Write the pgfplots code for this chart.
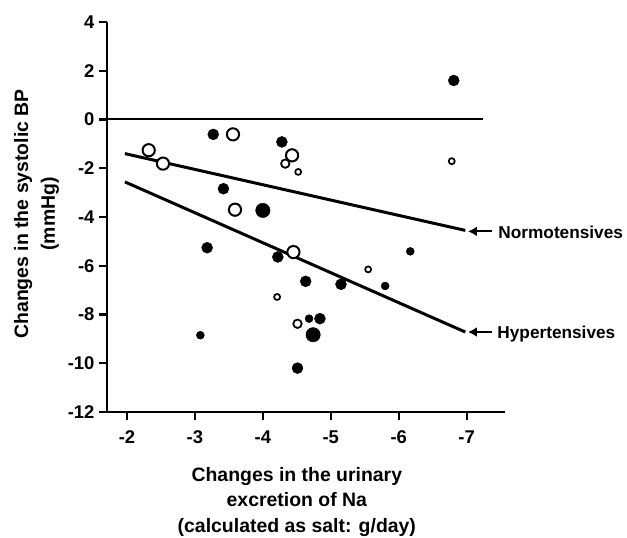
\documentclass[border=0pt]{standalone}
\usepackage{fontspec}
\setmainfont{Liberation Sans}
\usepackage{pgfplots}
\pgfplotsset{compat=1.18}
\usetikzlibrary{arrows.meta}
\begin{document}
\begin{tikzpicture}
\useasboundingbox (-107bp,-126bp) rectangle (520bp,412bp);
\begin{axis}[
  scale only axis, width=398bp, height=390bp,
  x dir=reverse,
  xmin=-7.564, xmax=-1.706, ymin=-12, ymax=4,
  axis lines*=left,
  axis line style={line width=2.6bp},
  tick style={line width=2.2bp, black},
  tick align=outside,
  major tick length=8bp,
  xtick={-2,-3,-4,-5,-6,-7}, xticklabels={-2,-3,-4,-5,-6,-7},
  ytick={-12,-10,-8,-6,-4,-2,0,2,4}, yticklabels={-12,-10,-8,-6,-4,-2,0,2,4},
  ticklabel style={font=\fontsize{18.5}{18.5}\selectfont\bfseries},
  xticklabel style={yshift=-7bp},
  yticklabel style={xshift=-1bp},
  clip=false,
]
% zero line
\addplot[line width=2bp] coordinates {(-1.706,0) (-7.24,0)};
% regression lines
\addplot[line width=3bp] coordinates {(-1.97,-1.40) (-6.98,-4.55)};
\addplot[line width=3bp] coordinates {(-1.97,-2.56) (-6.98,-8.72)};
% normotensives (open)
\addplot[only marks, mark=*, mark size=6.1bp, mark options={draw=black, fill=white, line width=2bp}] coordinates {
(-2.32,-1.26) (-2.53,-1.81) (-3.56,-0.61) (-3.59,-3.70) (-4.43,-1.47) (-4.45,-5.44)};
\addplot[only marks, mark=*, mark size=4.2bp, mark options={draw=black, fill=white, line width=1.8bp}] coordinates {
(-4.33,-1.81) (-4.51,-8.38)};
\addplot[only marks, mark=*, mark size=3.0bp, mark options={draw=black, fill=white, line width=1.7bp}] coordinates {
(-4.52,-2.15) (-6.78,-1.71) (-5.55,-6.15) (-4.21,-7.28)};
% hypertensives (filled)
\addplot[only marks, mark=*, mark size=7.2bp, mark options={draw=black, fill=black}] coordinates {
(-4.00,-3.73) (-4.74,-8.83)};
\addplot[only marks, mark=*, mark size=5.5bp, mark options={draw=black, fill=black}] coordinates {
(-3.27,-0.61) (-4.28,-0.92) (-3.42,-2.84) (-3.18,-5.26) (-4.22,-5.64) (-4.63,-6.64) (-5.15,-6.76) (-4.84,-8.17) (-4.51,-10.2) (-6.81,1.6)};
\addplot[only marks, mark=*, mark size=4.0bp, mark options={draw=black, fill=black}] coordinates {
(-5.80,-6.83) (-6.17,-5.41) (-4.68,-8.17) (-3.08,-8.85)};
% annotations
\draw[line width=1.9bp, -{Latex[length=9bp,width=10bp]}] (axis cs:-7.372,-4.59) -- (axis cs:-7.019,-4.59);
\draw[line width=1.9bp, -{Latex[length=9bp,width=10bp]}] (axis cs:-7.372,-8.72) -- (axis cs:-7.019,-8.72);
\node[anchor=base west, inner sep=0, font=\fontsize{17.3}{17.3}\selectfont\bfseries] at (axis cs:-7.465,-4.89) {Normotensives};
\node[anchor=base west, inner sep=0, font=\fontsize{17.3}{17.3}\selectfont\bfseries] at (axis cs:-7.45,-8.99) {Hypertensives};
% axis labels
\node[anchor=north, align=center, inner sep=0, font=\fontsize{19.5}{25.5}\selectfont\bfseries] at (axis description cs:0.477,-0.141) {Changes in the urinary\\excretion of Na\\(calculated as salt: g/day)};
\node[rotate=90, anchor=center, align=center, inner sep=0, font=\fontsize{19.5}{27}\selectfont\bfseries] at (axis description cs:-0.177,0.508) {Changes in the systolic BP\\(mmHg)};
\end{axis}
\end{tikzpicture}
\end{document}
